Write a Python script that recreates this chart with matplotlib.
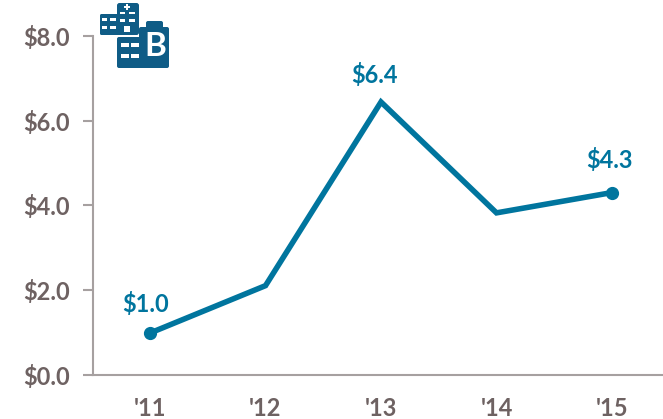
import matplotlib
matplotlib.use("Agg")
import matplotlib.pyplot as plt
from matplotlib.patches import FancyBboxPatch, Rectangle

years = ["'11", "'12", "'13", "'14", "'15"]
values = [0.98, 2.1, 6.44, 3.82, 4.3]
labels = {0: "$1.0", 2: "$6.4", 4: "$4.3"}
yticks = [0, 2, 4, 6, 8]

W, H = 663, 419
LINE = "#00759E"
ICON = "#0F5C86"
GREY = "#6E6262"
SPINE = "#A6A0A0"
plt.rcParams["font.family"] = ["Lato", "DejaVu Sans"]

fig = plt.figure(figsize=(W / 100, H / 100), dpi=100)
L, R, T, B = 92.5, 663, 36, 374.5
ax = fig.add_axes([L / W, 1 - B / H, (R - L) / W, (B - T) / H])
ax.set_ylim(0, 8)
ax.set_xlim((L - 150) / 115.5, (R - 150) / 115.5)
xs = list(range(len(years)))
ax.plot(xs, values, color=LINE, lw=4.0, solid_joinstyle="miter", zorder=3)
ax.plot([xs[0], xs[-1]], [values[0], values[-1]], "o", color=LINE, ms=8.5, zorder=4, clip_on=False)
offsets = {0: (-3, 12), 2: (-5, 10.5), 4: (-2, 14.5)}
for i, s in labels.items():
    ax.annotate(s.replace("$", r"\$"), (xs[i], values[i]), xytext=offsets[i],
                textcoords="offset points", ha="center", va="bottom",
                color=LINE, fontsize=17, fontweight="bold")
for s in ("top", "right"):
    ax.spines[s].set_visible(False)
for s in ("left", "bottom"):
    ax.spines[s].set_color(SPINE)
    ax.spines[s].set_linewidth(1.5)
ax.set_xticks(xs)
ax.set_xticklabels(years)
ax.set_yticks(yticks)
ax.set_yticklabels([rf"\${v:.1f}" for v in yticks])
ax.tick_params(axis="x", length=0, pad=16, labelsize=17, labelcolor=GREY)
ax.tick_params(axis="y", length=7, width=1.5, color=SPINE, pad=9.5, labelsize=17, labelcolor=GREY)
for t in ax.get_xticklabels() + ax.get_yticklabels():
    t.set_fontweight("bold")

# Icon, drawn in pixel space
ic = fig.add_axes([0, 0, 1, 1], facecolor="none")
ic.set_xlim(0, W)
ic.set_ylim(H, 0)
ic.axis("off")

def box(x0, y0, x1, y1, color=ICON, r=1.5):
    ic.add_patch(FancyBboxPatch((x0 + r, y0 + r), x1 - x0 - 2 * r, y1 - y0 - 2 * r,
                                boxstyle=f"round,pad={r},rounding_size={r}", fc=color, ec="none"))

box(100, 14, 128, 35)
box(117, 3, 139, 35, r=2.5)
box(117, 37, 145, 68, r=2)
box(139, 27, 169, 68, r=2)
box(146, 21, 163, 30, r=2)
WHITE = "white"
for x, y, w, h in [(102, 18, 5, 3), (110, 18, 6, 3), (102, 26, 5, 3), (110, 26, 6, 3),
                   (120, 12, 5, 2.5), (129, 12, 6, 2.5), (120, 19, 5, 3), (129, 19, 6, 3),
                   (124, 26, 6, 6.5), (124, 6, 6, 2), (126, 4, 2, 6),
                   (121, 43, 8, 4), (131, 43, 8, 4), (121, 54, 8, 4), (131, 54, 8, 4)]:
    ic.add_patch(Rectangle((x, y), w, h, fc=WHITE, ec="none"))
ic.text(155, 46.5, "B", color=WHITE, fontsize=24, fontweight="bold", ha="center", va="center")

fig.savefig("out.png", dpi=100)
